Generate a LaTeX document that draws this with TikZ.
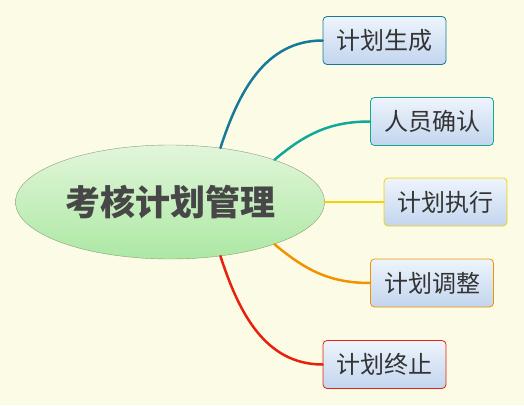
\documentclass[tikz,border=0pt]{standalone}
\usepackage{fontspec}
\newfontfamily\cjk{Noto Sans CJK SC}
\usepackage{tikz}
\usetikzlibrary{shapes.geometric}
\definecolor{bgcream}{HTML}{FCFCE6}
\definecolor{topicline}{HTML}{8C9C78}
\definecolor{topictop}{HTML}{E2F6DA}
\definecolor{topicbot}{HTML}{ACE8A4}
\definecolor{boxtop}{HTML}{EEF4FC}
\definecolor{boxbot}{HTML}{C2D5EE}
\definecolor{boxtext}{HTML}{333333}
\definecolor{cA}{HTML}{17799A}
\definecolor{cB}{HTML}{12A898}
\definecolor{cC}{HTML}{F2D200}
\definecolor{cD}{HTML}{F39200}
\definecolor{cE}{HTML}{E8200C}
\tikzset{
  x=1pt, y=1pt, % pixel-like units
  topic/.style={ellipse, draw=topicline, top color=topictop, bottom color=topicbot,
    minimum width=309, minimum height=114, inner sep=0pt,
    font=\cjk\bfseries\fontsize{35}{40}\selectfont, text=black!72}, % the central ellipse
  branch/.style={rectangle, rounded corners=4, top color=boxtop, bottom color=boxbot,
    minimum width=123, minimum height=48, inner sep=0pt, line width=0.8,
    font=\cjk\fontsize{24}{28}\selectfont, text=boxtext}, % each leaf box
  link/.style={line width=2.5, line cap=round}, % the curved branches
}
\begin{document}
\begin{tikzpicture}
  \fill[bgcream] (0,0) rectangle (524,405);
  \useasboundingbox (0,0) rectangle (524,405);

  \node[topic] (plan) at (170,203) {考核计划管理};
  \node[branch, draw=cA] (make)   at (384.5,364.5) {计划生成};
  \node[branch, draw=cB] (staff)  at (432,283.5)   {人员确认};
  \node[branch, draw=cC] (run)    at (445.5,203)   {计划执行};
  \node[branch, draw=cD] (adjust) at (432,122)     {计划调整};
  \node[branch, draw=cE] (stop)   at (384.5,40.5)  {计划终止};

  \draw[link, cA] (plan.47)  to[out=72, in=180]  (make.west);
  \draw[link, cB] (plan.22)  to[out=40, in=180]  (staff.west);
  \draw[link, cC] (plan.0)   --                  (run.west);
  \draw[link, cD] (plan.-22) to[out=-40, in=180] (adjust.west);
  \draw[link, cE] (plan.-47) to[out=-72, in=180] (stop.west);
\end{tikzpicture}
\end{document}
